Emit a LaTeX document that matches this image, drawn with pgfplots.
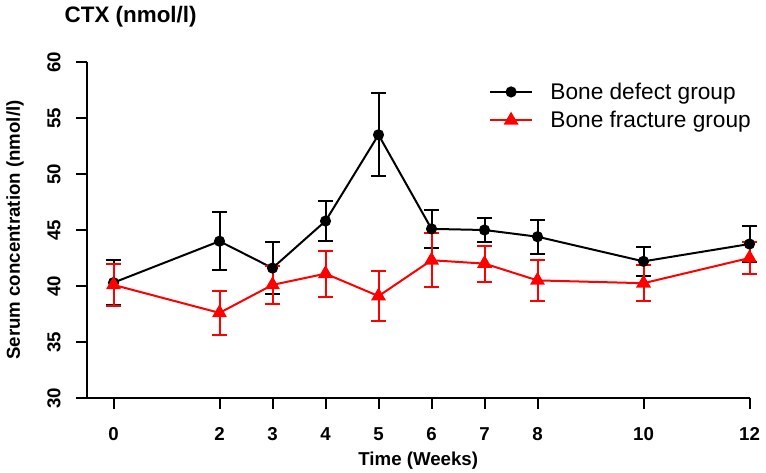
\documentclass[border=0pt]{standalone}
\usepackage{fontspec}
\setmainfont{Liberation Sans}
\usepackage{pgfplots}
\pgfplotsset{compat=1.18}
\usepackage{pgfplotstable}
\pgfplotstableread{
x y ey
0 40.3 2.0
2 44.0 2.6
3 41.6 2.3
4 45.8 1.8
5 53.5 3.7
6 45.1 1.7
7 45.0 1.1
8 44.4 1.5
10 42.2 1.3
12 43.75 1.6
}\defect
\pgfplotstableread{
x y ey
0 40.1 1.9
2 37.6 1.95
3 40.1 1.7
4 41.1 2.05
5 39.1 2.2
6 42.3 2.4
7 42.0 1.6
8 40.5 1.8
10 40.25 1.6
12 42.5 1.4
}\fracture
\begin{document}
\begin{tikzpicture}
\path[use as bounding box] (-65.25pt,-55.5pt) rectangle (509.25pt,298.5pt);
\begin{axis}[
  at={(0,0)}, anchor=south west,
  scale only axis,
  width=496.875pt, height=252pt,
  xmin=-0.5, xmax=12, ymin=30, ymax=60,
  clip=false,
  axis x line*=bottom, axis y line*=left,
  axis line style={line width=1.5pt, -},
  xtick={0,2,3,4,5,6,7,8,10,12},
  ytick={30,35,40,45,50,55,60},
  tick align=outside,
  major tick length=8pt,
  tick style={line width=1.5pt, black},
  /pgf/number format/assume math mode=true,
  tick label style={font=\fontsize{14}{16}\selectfont\bfseries},
  xticklabel style={yshift=-10.5pt},
  yticklabel style={rotate=90, anchor=south, yshift=8.25pt},
  xlabel={Time (Weeks)},
  ylabel={Serum concentration (nmol/l)},
  xlabel style={at={([yshift=-47.25pt]axis description cs:0.5,0)}, anchor=center, font=\fontsize{14}{16}\selectfont\bfseries},
  ylabel style={at={([xshift=-54pt]axis description cs:0,0.5)}, anchor=center, rotate=0, font=\fontsize{14}{16}\selectfont\bfseries},
  title={CTX (nmol/l)},
  every axis title/.style={at={([xshift=-20.25pt,yshift=33.75pt]axis description cs:0,1)}, anchor=west, font=\fontsize{16.8}{19}\selectfont\bfseries},
  legend style={at={(0.6005,0.955)}, anchor=north west, draw=none, fill=none,
    font=\fontsize{17}{20}\selectfont, row sep=3.5pt, column sep=11pt,
    nodes={inner sep=2pt}},
  legend cell align=left,
  legend image code/.code={\draw[mark repeat=2,mark phase=2,#1] plot coordinates {(0pt,0pt) (15.75pt,0pt) (31.5pt,0pt)};},
  error bars/error bar style={line width=1.5pt},
  error bars/error mark options={rotate=90, mark size=5.6pt, line width=1.5pt},
]
\addplot[black, line width=1.5pt, mark=*, mark size=3.4pt,
  error bars/.cd, y dir=both, y explicit]
  table[x=x, y=y, y error=ey]{\defect};
\addlegendentry{Bone defect group}
\addplot[red, line width=1.5pt, mark=triangle*, mark size=5pt,
  error bars/.cd, y dir=both, y explicit]
  table[x=x, y=y, y error=ey]{\fracture};
\addlegendentry{Bone fracture group}
\end{axis}
\end{tikzpicture}
\end{document}
